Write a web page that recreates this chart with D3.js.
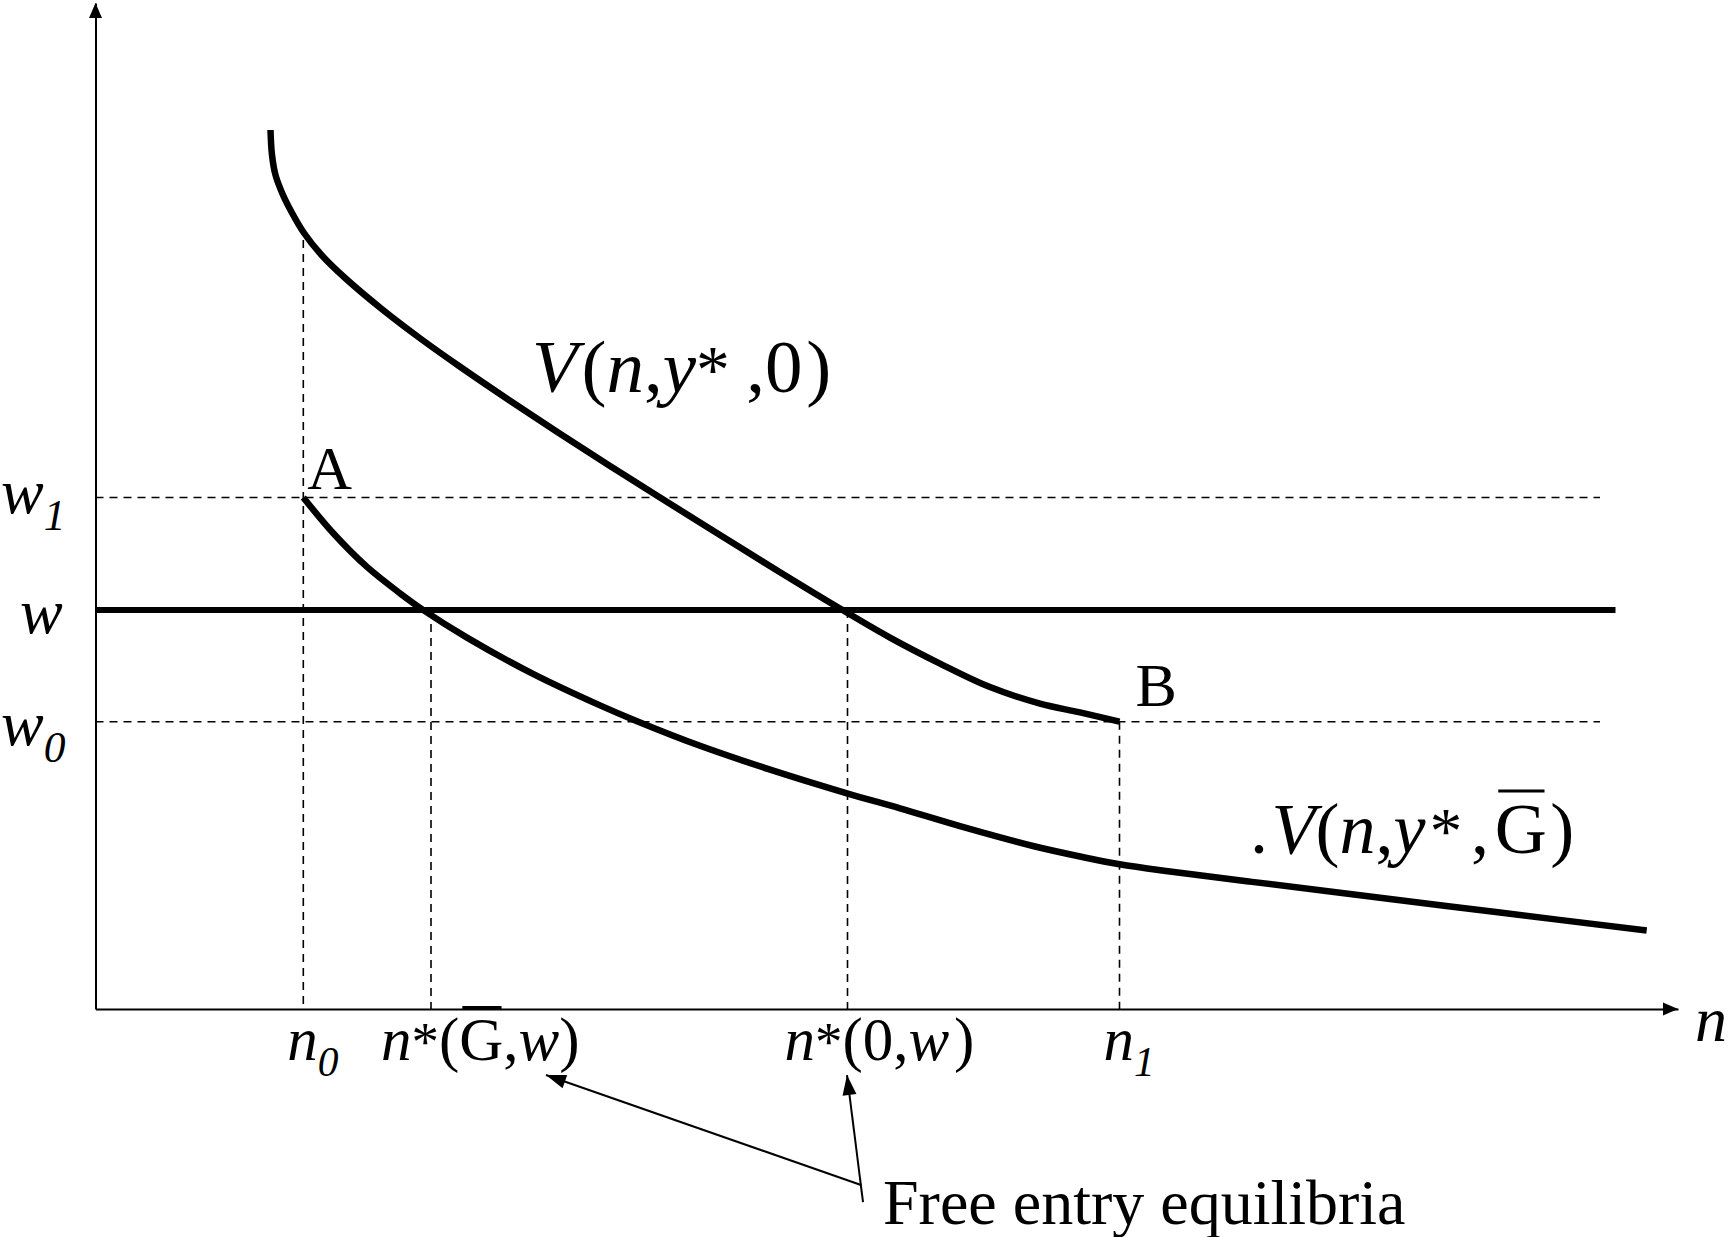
<!DOCTYPE html>
<html>
<head>
<meta charset="utf-8">
<script src="https://cdn.jsdelivr.net/npm/d3@7"></script>
<style>
  html, body { margin: 0; padding: 0; background: #fff; }
  svg { display: block; }
  text { font-family: "Liberation Serif", "Times New Roman", serif; fill: #000; }
</style>
</head>
<body>
<svg id="chart" width="1728" height="1237"></svg>
<script>
// Value of a firm V against the number of firms n, with and without the subsidy G.
// Curve without subsidy: V(n, y*, 0)
const vZeroN = [17.50, 17.65, 18.00, 18.75, 19.55, 20.85, 22.60, 24.85, 28.75, 32.55,
                36.35, 41.45, 46.45, 51.45, 56.45, 62.45, 68.45, 74.75, 79.45, 84.45,
                89.45, 94.45, 98.45, 102.40];
const vZeroV = [87.90, 85.40, 83.40, 81.40, 79.80, 77.60, 75.40, 73.20, 69.90, 67.00,
                64.30, 60.83, 57.53, 54.30, 51.15, 47.40, 43.68, 39.87, 37.14, 34.54,
                32.19, 30.54, 29.66, 28.73];

// Curve with subsidy: V(n, y*, G-bar)
const vGbarN = [20.78, 23.78, 27.12, 30.45, 32.75, 37.15, 43.75, 50.45, 54.15, 60.45,
                67.15, 75.15, 80.45, 87.15, 93.75, 98.45, 102.40, 107.45, 115.45, 125.45,
                140.45, 155.12];
const vGbarV = [51.15, 47.57, 44.23, 41.57, 39.91, 37.14, 33.51, 30.36, 28.78, 26.32,
                24.04, 21.57, 20.07, 18.08, 16.30, 15.25, 14.47, 13.75, 12.74, 11.50,
                9.64, 7.85];

// Wage levels on the vertical axis
const wageLevels = [51.15, 39.90, 28.73];
const wageLabels = ["w_1", "w", "w_0"];

// Firm counts on the horizontal axis
const firmTicks = [20.78, 33.55, 75.20, 102.40];
const firmTickLabels = ["n_0", "n^*(~G,w)", "n^*(0,w)", "n_1"];

// Curve names, corner points and the annotation
const curveLabels = ["V(n,y^*,0)", ".V(n,y^*,~G)"];
const pointLabels = ["A", "B"];
const noteText = "Free entry equilibria";

const svg = d3.select("#chart");
const x = d3.scaleLinear().domain([0, 158.25]).range([95.5, 1678]);
const y = d3.scaleLinear().domain([0, 100.6]).range([1009, 3]);

// ---- axes (plain lines with arrow tips) ----
svg.append("g").attr("transform", `translate(0,${y(0)})`)
  .call(d3.axisBottom(x).tickValues([]).tickSizeOuter(0))
  .call(g => g.select(".domain").attr("stroke", "#000").attr("stroke-width", 2));
svg.append("g").attr("transform", `translate(${x(0)},0)`)
  .call(d3.axisLeft(y).tickValues([]).tickSizeOuter(0))
  .call(g => g.select(".domain").attr("stroke", "#000").attr("stroke-width", 2));

function arrowHead(tipX, tipY, fromX, fromY, len, half) {
  const a = Math.atan2(tipY - fromY, tipX - fromX);
  const bx = tipX - len * Math.cos(a), by = tipY - len * Math.sin(a);
  const px = -Math.sin(a) * half, py = Math.cos(a) * half;
  svg.append("path")
    .attr("d", `M${tipX},${tipY}L${bx + px},${by + py}L${bx - px},${by - py}Z`)
    .attr("fill", "#000");
}
arrowHead(x(0), y(100.6), x(0), y(0), 15, 6.5);
arrowHead(x(158.25), y(0), x(0), y(0), 15, 6.5);

// ---- guide lines ----
const dash = "8,6";
const guides = svg.append("g").attr("stroke", "#000").attr("fill", "none");
// w1 and w0 dashed levels
[wageLevels[0], wageLevels[2]].forEach(v => {
  guides.append("line")
    .attr("x1", x(0)).attr("x2", x(150.45))
    .attr("y1", y(v)).attr("y2", y(v))
    .attr("stroke-width", 1.6).attr("stroke-dasharray", dash);
});
// vertical drops to the horizontal axis
const dropTops = [76.9, wageLevels[1], wageLevels[1], wageLevels[2]];
firmTicks.forEach((t, i) => {
  guides.append("line")
    .attr("x1", x(t)).attr("x2", x(t))
    .attr("y1", y(dropTops[i])).attr("y2", y(0))
    .attr("stroke-width", 1.6).attr("stroke-dasharray", dash);
});
// the market wage w
guides.append("line")
  .attr("x1", x(0)).attr("x2", x(152))
  .attr("y1", y(wageLevels[1])).attr("y2", y(wageLevels[1]))
  .attr("stroke-width", 6);

// ---- value curves ----
const line = d3.line()
  .x(d => x(d[0])).y(d => y(d[1]))
  .curve(d3.curveCatmullRom.alpha(0.5));
svg.append("path")
  .datum(d3.zip(vZeroN, vZeroV))
  .attr("d", line).attr("fill", "none").attr("stroke", "#000").attr("stroke-width", 6.5);
svg.append("path")
  .datum(d3.zip(vGbarN, vGbarV))
  .attr("d", line).attr("fill", "none").attr("stroke", "#000").attr("stroke-width", 6.5);

// ---- math-style text: "_" subscript, "^" superscript, "~" barred upright letter ----
// gaps: extra horizontal space (in em) before given pieces
function mathText(px, py, str, size, gaps = {}) {
  const t = svg.append("text").attr("x", px).attr("y", py).style("font-size", size + "px");
  const pieces = [];
  for (let i = 0; i < str.length; i++) {
    const c = str[i];
    if (c === "_") { pieces.push({ ch: str[++i], role: "sub", italic: true }); }
    else if (c === "^") { pieces.push({ ch: str[++i], role: "sup", italic: false }); }
    else if (c === "~") { pieces.push({ ch: str[++i], role: "base", italic: false, bar: true }); }
    else { pieces.push({ ch: c, role: "base", italic: /[a-zA-Z]/.test(c) }); }
  }
  let shift = 0, idx = 0;
  const bars = [];
  pieces.forEach((p, k) => {
    const fs = p.role === "sub" ? size * 0.68 : p.role === "sup" ? size * 0.9 : size;
    const target = p.role === "sub" ? size * 0.27 : 0;
    t.append("tspan")
      .attr("dx", (gaps[k] || 0) * size)
      .attr("dy", target - shift)
      .style("font-size", fs + "px")
      .style("font-style", p.italic ? "italic" : "normal")
      .text(p.ch);
    shift = target;
    if (p.bar) bars.push({ idx, fs });
    idx += p.ch.length;
  });
  bars.forEach(b => {
    const ext = t.node().getExtentOfChar(b.idx);
    svg.append("line")
      .attr("x1", ext.x + b.fs * 0.05).attr("x2", ext.x + ext.width - b.fs * 0.03)
      .attr("y1", py - b.fs * 0.86).attr("y2", py - b.fs * 0.86)
      .attr("stroke", "#000").attr("stroke-width", 3);
  });
  return t;
}

// vertical axis labels
const wageLabelDx = [1, 20, 1];
const wageLabelDy = [15, 23, 23];
wageLevels.forEach((v, i) => {
  mathText(wageLabelDx[i], y(v) + wageLabelDy[i], wageLabels[i], 64);
});

// horizontal axis labels
const firmLabelDx = [-16, -50, -63, -16];
const firmLabelGaps = [{}, {}, { 6: 0.08 }, {}];
firmTicks.forEach((t, i) => {
  mathText(x(t) + firmLabelDx[i], 1060, firmTickLabels[i], 61, firmLabelGaps[i]);
});
mathText(1695, 1041, "n", 64);

// curve names
mathText(532, 392, curveLabels[0], 75, { 1: 0.05, 6: 0.22, 8: 0.05 });
mathText(1250, 853, curveLabels[1], 72, { 1: 0.05, 6: 0.06, 7: 0.12, 8: 0.08, 9: 0.05 });

// corner points A and B
svg.append("text").attr("x", x(vGbarN[0]) + 4).attr("y", y(wageLevels[0]) - 9)
  .style("font-size", "62px").text(pointLabels[0]);
svg.append("text").attr("x", x(firmTicks[3]) + 16).attr("y", y(wageLevels[2]) - 16)
  .style("font-size", "62px").text(pointLabels[1]);

// annotation pointing at the two equilibria
svg.append("text").attr("x", 883).attr("y", 1224).style("font-size", "64px").text(noteText);
const notes = [
  { from: [76.55, -17.6], to: [45.05, -6.6] },
  { from: [76.75, -19.3], to: [75.15, -6.6] }
];
notes.forEach(a => {
  const fx = x(a.from[0]), fy = y(a.from[1]), tx = x(a.to[0]), ty = y(a.to[1]);
  svg.append("line").attr("x1", fx).attr("y1", fy).attr("x2", tx).attr("y2", ty)
    .attr("stroke", "#000").attr("stroke-width", 2);
  arrowHead(tx, ty, fx, fy, 20, 7);
});
</script>
</body>
</html>
